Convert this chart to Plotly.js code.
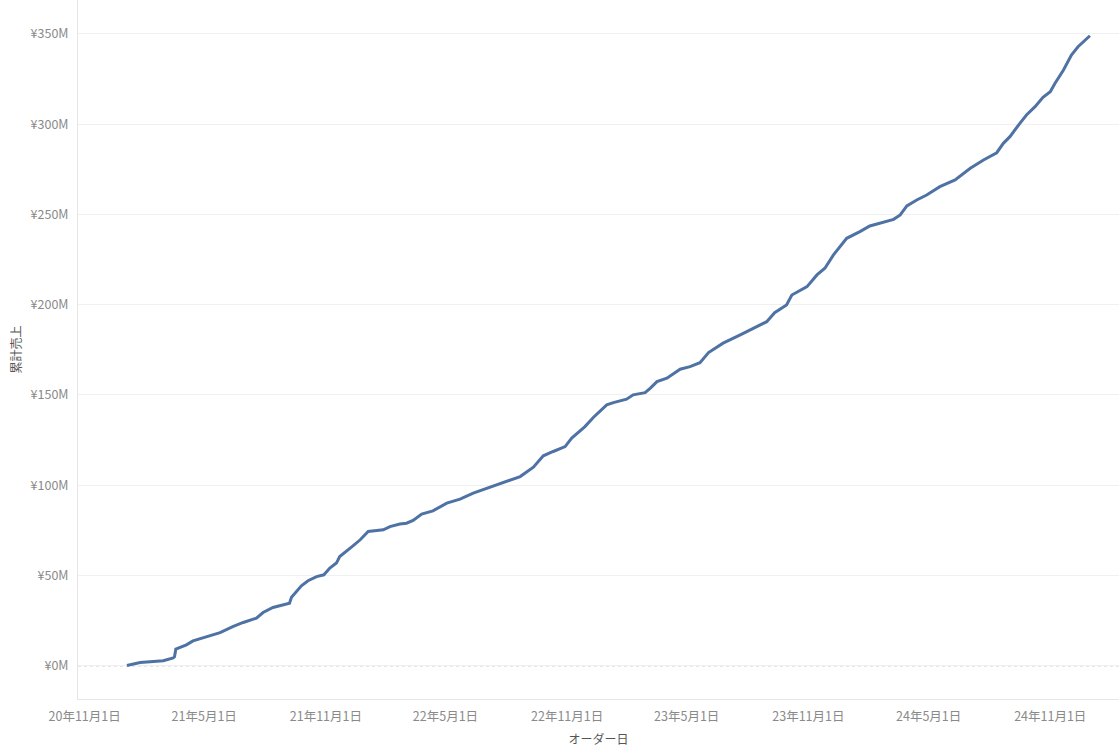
<!DOCTYPE html>
<html>
<head>
<meta charset="utf-8">
<script src="https://cdn.plot.ly/plotly-3.0.1.min.js"></script>
<style>
  html, body { margin: 0; padding: 0; background: #ffffff; }
  #chart { width: 1119px; height: 748px; }
</style>
</head>
<body>
<div id="chart"></div>
<script>
// オーダー日 (order date) and cumulative sales (累計売上) in millions of yen
const orderDates = [
  "2021-01-04","2021-01-24","2021-02-13","2021-02-28","2021-03-15","2021-03-17","2021-03-19",
  "2021-04-04","2021-04-14","2021-05-05","2021-05-25","2021-06-14","2021-06-29","2021-07-19",
  "2021-07-29","2021-08-13","2021-09-07","2021-09-10","2021-09-25","2021-10-05","2021-10-18",
  "2021-10-29","2021-11-07","2021-11-17","2021-11-22","2021-12-12","2021-12-23","2022-01-04",
  "2022-01-27","2022-02-06","2022-02-21","2022-03-03","2022-03-13","2022-03-26","2022-04-12",
  "2022-05-03","2022-05-23","2022-06-12","2022-07-07","2022-08-02","2022-08-22","2022-09-11",
  "2022-09-26","2022-10-11","2022-10-29","2022-11-08","2022-11-28","2022-12-11","2022-12-31",
  "2023-01-10","2023-01-30","2023-02-09","2023-02-27","2023-03-07","2023-03-17","2023-04-01",
  "2023-04-21","2023-05-06","2023-05-21","2023-06-03","2023-06-25","2023-07-21","2023-08-05",
  "2023-08-30","2023-09-11","2023-09-29","2023-10-07","2023-10-30","2023-11-14","2023-11-26",
  "2023-12-09","2023-12-21","2023-12-29","2024-01-18","2024-02-02","2024-03-09","2024-03-19",
  "2024-03-29","2024-04-13","2024-04-28","2024-05-18","2024-06-10","2024-07-03","2024-07-23",
  "2024-08-12","2024-08-22","2024-09-01","2024-09-16","2024-09-26","2024-10-09","2024-10-21",
  "2024-11-01","2024-11-08","2024-11-21","2024-12-03","2024-12-13","2024-12-31"
];
const cumulativeSalesM = [
  0.2, 1.8, 2.4, 2.8, 4.3, 5.0, 9.2,
  11.6, 13.8, 16.2, 18.4, 21.8, 24.0, 26.4,
  29.5, 32.3, 34.7, 38.0, 44.3, 47.1, 49.4,
  50.4, 54.1, 56.9, 60.5, 66.4, 69.8, 74.4,
  75.3, 77.1, 78.5, 79.0, 80.5, 84.0, 85.8,
  90.1, 92.3, 95.6, 98.9, 102.0, 104.8, 110.0,
  116.3, 118.7, 121.4, 126.1, 132.5, 137.7, 144.5,
  145.8, 147.7, 150.1, 151.3, 153.8, 157.4, 159.3,
  164.3, 165.7, 167.9, 173.5, 178.7, 183.3, 186.0,
  190.6, 195.6, 199.9, 205.4, 210.0, 216.5, 220.2,
  227.6, 233.1, 236.8, 240.5, 243.6, 247.3, 249.7,
  254.7, 258.0, 260.8, 265.4, 269.1, 275.6, 280.2,
  284.2, 289.4, 293.1, 300.5, 305.1, 309.7, 314.9,
  318.0, 322.6, 330.0, 338.3, 342.9, 349.0
];
const xTickDates = ["2020-11-01","2021-05-01","2021-11-01","2022-05-01","2022-11-01",
                    "2023-05-01","2023-11-01","2024-05-01","2024-11-01"];
const xTickLabels = ["20年11月1日","21年5月1日","21年11月1日","22年5月1日","22年11月1日",
                     "23年5月1日","23年11月1日","24年5月1日","24年11月1日"];
const yTickValues = [0, 50, 100, 150, 200, 250, 300, 350];
const yTickLabels = ["¥0M","¥50M","¥100M","¥150M","¥200M","¥250M","¥300M","¥350M"];
const xTitle = "オーダー日";
const yTitle = "累計売上";

const FONT = "'Noto Sans CJK JP', 'Noto Sans', sans-serif";

const trace = {
  type: "scatter",
  mode: "lines",
  x: orderDates,
  y: cumulativeSalesM,
  line: { color: "#4e72a4", width: 3, shape: "linear" },
  hoverinfo: "skip"
};

const layout = {
  width: 1119,
  height: 748,
  margin: { l: 78, r: 0, t: 0, b: 49, pad: 0 },
  paper_bgcolor: "#ffffff",
  plot_bgcolor: "#ffffff",
  showlegend: false,
  font: { family: FONT, size: 12.5, color: "#8c8c8c" },
  xaxis: {
    type: "date",
    range: ["2020-10-22", "2025-02-13"],
    tickvals: xTickDates,
    ticktext: xTickLabels,
    ticks: "",
    showgrid: false,
    zeroline: false,
    showline: true,
    linecolor: "#e6e6e6",
    linewidth: 1,
    ticklabelstandoff: 6,
    tickfont: { family: FONT, size: 12.5, color: "#8a8a8a" },
    title: { text: xTitle, font: { family: FONT, size: 12, color: "#555555" }, standoff: 11 },
    fixedrange: true
  },
  yaxis: {
    range: [-18.4, 368.8],
    tickvals: yTickValues,
    ticktext: yTickLabels,
    ticks: "",
    showgrid: true,
    gridcolor: "#f0f0f0",
    gridwidth: 1,
    zeroline: false,
    showline: true,
    linecolor: "#e6e6e6",
    linewidth: 1,
    ticklabelstandoff: 6,
    tickfont: { family: FONT, size: 12.5, color: "#8a8a8a" },
    title: { text: yTitle, font: { family: FONT, size: 12, color: "#555555" }, standoff: 6 },
    fixedrange: true
  },
  shapes: [{
    type: "line",
    xref: "paper", x0: 0, x1: 1,
    yref: "y", y0: 0, y1: 0,
    line: { color: "#a0a0a0", width: 1, dash: "dot" },
    layer: "below"
  }]
};

Plotly.newPlot("chart", [trace], layout, { displayModeBar: false, staticPlot: true });
</script>
</body>
</html>
